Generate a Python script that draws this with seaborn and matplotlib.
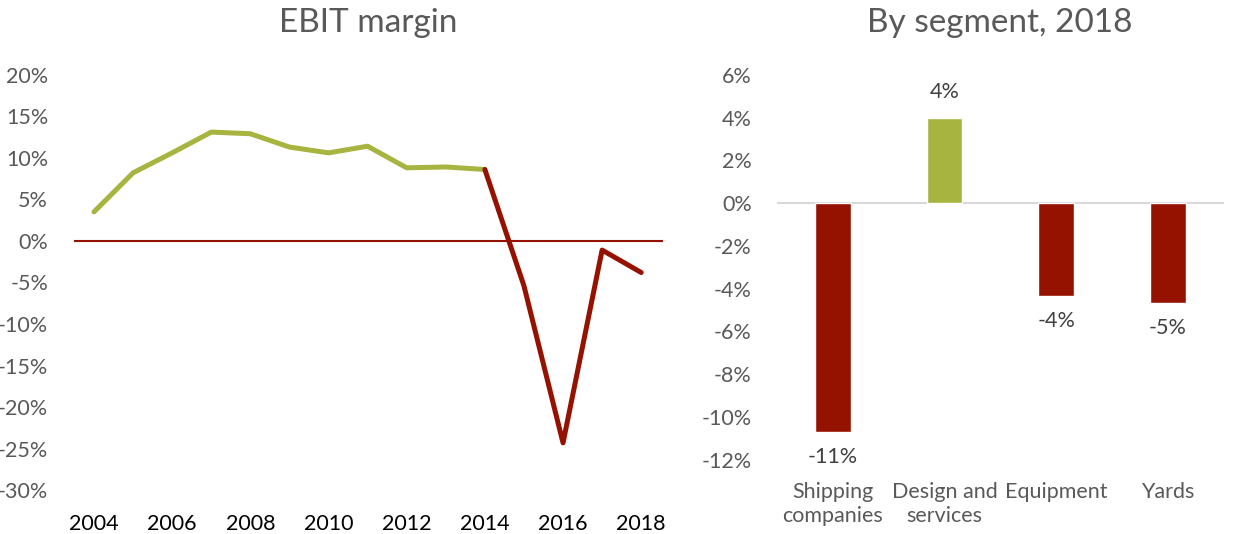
import matplotlib
matplotlib.use("Agg")
import matplotlib.pyplot as plt
import seaborn as sns
import pandas as pd

# EBIT margin by year (in %)
years = [2004, 2005, 2006, 2007, 2008, 2009, 2010, 2011,
         2012, 2013, 2014, 2015, 2016, 2017, 2018]
ebit_margin = [3.5, 8.2, 10.6, 13.1, 12.9, 11.3, 10.6, 11.4,
               8.8, 8.9, 8.6, -5.4, -24.3, -1.1, -3.8]

# Segment margins for 2018 (in %)
segments = ["Shipping\ncompanies", "Design and\nservices", "Equipment", "Yards"]
segment_margin = [-10.7, 4.0, -4.35, -4.65]

GREEN = "#A8B440"
RED = "#961200"
GREY = "#595959"

sns.set_theme(style="white")
plt.rcParams["font.family"] = ["Lato", "DejaVu Sans"]

fig = plt.figure(figsize=(12.41, 5.34), dpi=100)
ax1 = fig.add_axes([0.060, 0.082, 0.474, 0.778])
ax2 = fig.add_axes([0.626, 0.139, 0.360, 0.721])

# Left: line, green up to 2014, red from 2014 on
split = years.index(2014)
line_df = pd.concat([
    pd.DataFrame({"year": years[:split + 1], "margin": ebit_margin[:split + 1], "phase": "up"}),
    pd.DataFrame({"year": years[split:], "margin": ebit_margin[split:], "phase": "down"}),
])
ax1.axhline(0, color=RED, lw=1.5, zorder=1)
sns.lineplot(data=line_df, x="year", y="margin", hue="phase",
             palette={"up": GREEN, "down": RED}, linewidth=3.6,
             legend=False, ax=ax1, solid_capstyle="round", zorder=3)
ax1.set_xlim(2003.5, 2018.55)
ax1.set_ylim(-30, 20)
ax1.set_xticks(range(2004, 2019, 2))
ax1.set_yticks(range(-30, 21, 5))
ax1.set_yticklabels([f"{v}%" for v in range(-30, 21, 5)])
ax1.set_xlabel("")
ax1.set_ylabel("")
ax1.set_title("EBIT margin", fontsize=24, color=GREY, pad=31)
ax1.tick_params(axis="y", labelsize=15.5, labelcolor=GREY, pad=13)
ax1.tick_params(axis="x", labelsize=15.5, labelcolor="black", pad=11)
sns.despine(ax=ax1, left=True, bottom=True)

# Right: segment bars
bar_df = pd.DataFrame({"segment": segments, "margin": segment_margin})
bar_colors = [GREEN if v > 0 else RED for v in segment_margin]
ax2.axhline(0, color="#D9D9D9", lw=1.5, zorder=0)
sns.barplot(data=bar_df, x="segment", y="margin", hue="segment",
            palette=bar_colors, saturation=1, width=0.32, legend=False,
            ax=ax2, zorder=2)
for cont, v in zip(ax2.containers, segment_margin):
    ax2.bar_label(cont, labels=[f"{v:.0f}%"], padding=11,
                  fontsize=15.5, color="#404040")
ax2.set_xlim(-0.5, 3.5)
ax2.set_ylim(-12, 6)
ax2.set_yticks(range(-12, 7, 2))
ax2.set_yticklabels([f"{v}%" for v in range(-12, 7, 2)])
ax2.set_xlabel("")
ax2.set_ylabel("")
ax2.set_title("By segment, 2018", fontsize=24, color=GREY, pad=31)
ax2.tick_params(axis="y", labelsize=15.5, labelcolor=GREY, pad=12)
ax2.tick_params(axis="x", labelsize=15.5, labelcolor=GREY, pad=10)
for lbl in ax2.get_xticklabels():
    lbl.set_linespacing(1.25)
sns.despine(ax=ax2, left=True, bottom=True)

fig.savefig("out.png", dpi=100)
